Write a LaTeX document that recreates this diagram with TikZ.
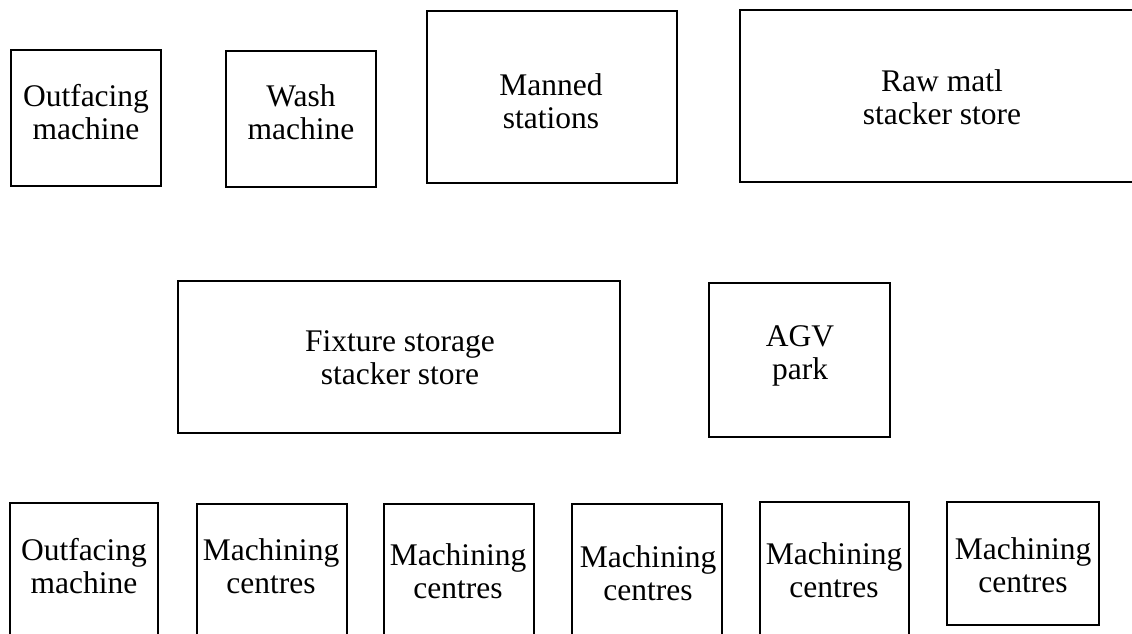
\documentclass[tikz,border=0pt]{standalone}
\usepackage{fontspec}
\setmainfont{Liberation Serif}
\begin{document}
\begin{tikzpicture}[x=1pt,y=-1pt,
  box/.style={draw=black,line width=2.6pt},
  lbl/.style={align=center,inner sep=0pt,font=\fontsize{31.5}{33}\selectfont}]
\useasboundingbox (0,0) rectangle (1132,634);
\clip (0,0) rectangle (1132,634);
% top row
\draw[box] (11,50) rectangle (161,186) coordinate (outA);
\draw[box] (226,51) rectangle (376,187) coordinate (wash);
\draw[box] (427,11) rectangle (677,183) coordinate (man);
\draw[box] (740,10) rectangle (1160,182) coordinate (raw);
\node[lbl] (toutA) at (86,112) {Outfacing\\machine};
\node[lbl] (twash) at (301,112) {Wash\\machine};
\node[lbl] (tman) at (551,101) {Manned\\stations};
\node[lbl] (traw) at (942,97) {Raw matl\\stacker store};
% middle row
\draw[box] (178,281) rectangle (620,433) coordinate (fix);
\draw[box] (709,283) rectangle (890,437) coordinate (agv);
\node[lbl] (tfix) at (400,358) {Fixture storage\\stacker store};
\node[lbl] (tagv) at (800,356) {AGV\\park};
% bottom row
\draw[box] (10,503) rectangle (158,660) coordinate (outB);
\draw[box] (197,504) rectangle (347,660) coordinate (mcA);
\draw[box] (384,504) rectangle (534,660) coordinate (mcB);
\draw[box] (572,504) rectangle (722,660) coordinate (mcC);
\draw[box] (760,502) rectangle (909,660) coordinate (mcD);
\draw[box] (947,502) rectangle (1099,625) coordinate (mcE);
\node[lbl] (toutB) at (84,566) {Outfacing\\machine};
\node[lbl] (tmcA) at (271,566) {Machining\\centres};
\node[lbl] (tmcB) at (458,571) {Machining\\centres};
\node[lbl] (tmcC) at (648,573) {Machining\\centres};
\node[lbl] (tmcD) at (834,570) {Machining\\centres};
\node[lbl] (tmcE) at (1023,565) {Machining\\centres};
\end{tikzpicture}
\end{document}
